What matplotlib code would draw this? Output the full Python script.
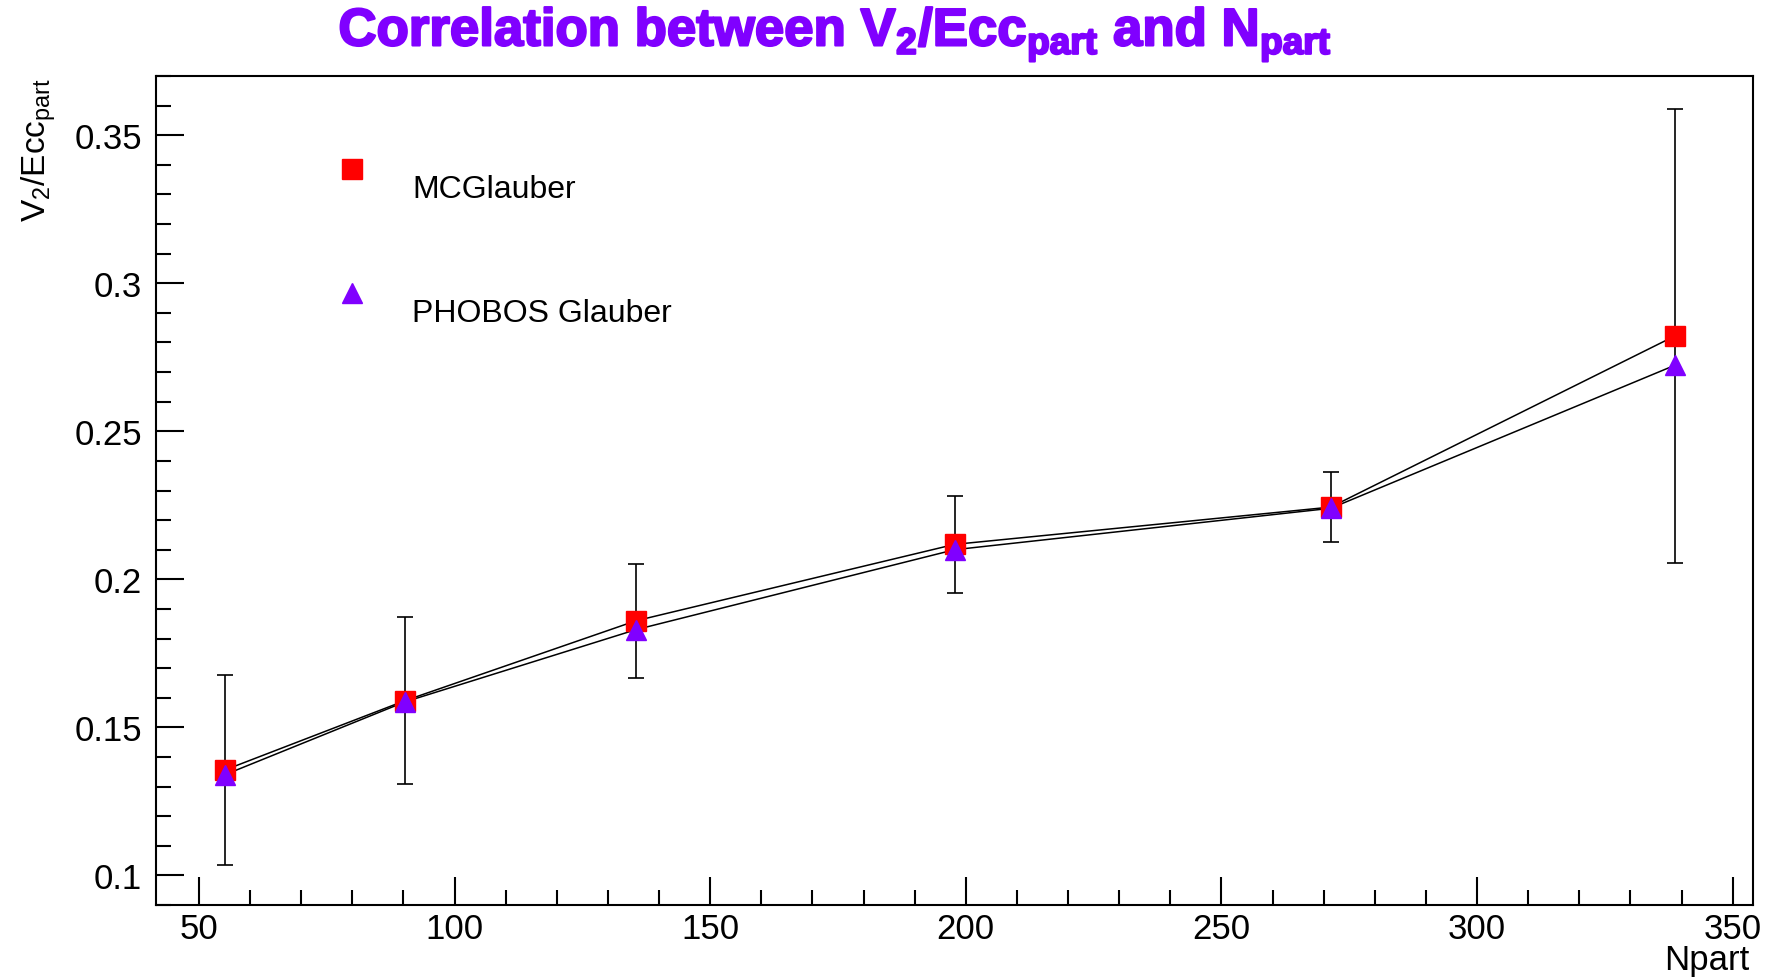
import numpy as np
import matplotlib
matplotlib.use("Agg")
from matplotlib import pyplot as plt
from matplotlib import patheffects
from matplotlib.ticker import MultipleLocator, FormatStrFormatter

plt.rcParams['font.family'] = ['Liberation Sans', 'DejaVu Sans']
plt.rcParams['mathtext.fontset'] = 'custom'
plt.rcParams['mathtext.rm'] = 'Liberation Sans'
plt.rcParams['mathtext.it'] = 'Liberation Sans'
plt.rcParams['mathtext.bf'] = 'Liberation Sans:bold'

# Npart de cada centralidad
npart = [55.1, 90.3, 135.5, 197.8, 271.4, 338.7]
# v2/ecc con MC Glauber
mc_glauber = [0.1356, 0.1590, 0.1860, 0.2118, 0.2244, 0.2822]
# v2/ecc con PHOBOS Glauber
phobos_glauber = [0.1340, 0.1586, 0.1830, 0.2100, 0.2240, 0.2723]
# errores (solo en MCGlauber)
mc_err = [0.0320, 0.0282, 0.0192, 0.0163, 0.0117, 0.0768]

red = '#ff0000'
violet = '#8000ff'

fig = plt.figure(figsize=(17.76, 9.79), dpi=100)
ax = fig.add_axes([0.0878, 0.0746, 0.8993, 0.8467])

# barras de error
ax.errorbar(npart, mc_glauber, yerr=mc_err, fmt='none', ecolor='black',
            elinewidth=1.2, capsize=6, capthick=1.2, zorder=2)

# lineas
ax.plot(npart, mc_glauber, color='black', lw=1.1, zorder=3)
ax.plot(npart, phobos_glauber, color='black', lw=1.1, zorder=3)

# marcadores
ax.plot(npart, mc_glauber, linestyle='none', marker='s', ms=14.5,
        color=red, mec=red, zorder=4)
ax.plot(npart, phobos_glauber, linestyle='none', marker='^', ms=15,
        color=violet, mec=violet, zorder=5)

ax.set_xlim(41.6, 354)
ax.set_ylim(0.090, 0.370)

ax.xaxis.set_major_locator(MultipleLocator(50))
ax.xaxis.set_minor_locator(MultipleLocator(10))
ax.yaxis.set_major_locator(MultipleLocator(0.05))
ax.yaxis.set_minor_locator(MultipleLocator(0.01))
ax.yaxis.set_major_formatter(FormatStrFormatter('%g'))

ax.tick_params(which='both', direction='in', top=False, right=False, width=1.5)
ax.tick_params(axis='y', which='major', length=20, pad=10, labelsize=25)
ax.tick_params(axis='y', which='minor', length=11)
ax.tick_params(axis='x', which='major', length=20, pad=5, labelsize=25)
ax.tick_params(axis='x', which='minor', length=11)
for s in ax.spines.values():
    s.set_linewidth(1.5)

# leyenda a mano
ax.plot([0.1227], [0.888], transform=ax.transAxes, marker='s', ms=14.5,
        color=red, linestyle='none', clip_on=False)
ax.text(0.1606, 0.864, 'MCGlauber', transform=ax.transAxes, fontsize=23,
        ha='left', va='center')
ax.plot([0.1227], [0.738], transform=ax.transAxes, marker='^', ms=15,
        color=violet, linestyle='none', clip_on=False)
ax.text(0.1606, 0.714, 'PHOBOS Glauber', transform=ax.transAxes, fontsize=23,
        ha='left', va='center')

# titulos
title = fig.text(0.470, 0.964,
                 r'Correlation between V$_\mathbf{2}$/Ecc$_\mathbf{part}$ and N$_\mathbf{part}$',
                 color=violet, fontsize=38, fontweight='bold', ha='center', va='center')
title.set_path_effects([patheffects.withStroke(linewidth=1.6, foreground=violet)])
fig.text(0.022, 1 - 78 / 979, r'V$_2$/Ecc$_{\mathrm{part}}$', rotation=90,
         fontsize=24, ha='center', va='top')
fig.text(0.985, 1 - 961 / 979, 'Npart', fontsize=25, ha='right', va='center')

fig.savefig('out.png', dpi=100)
